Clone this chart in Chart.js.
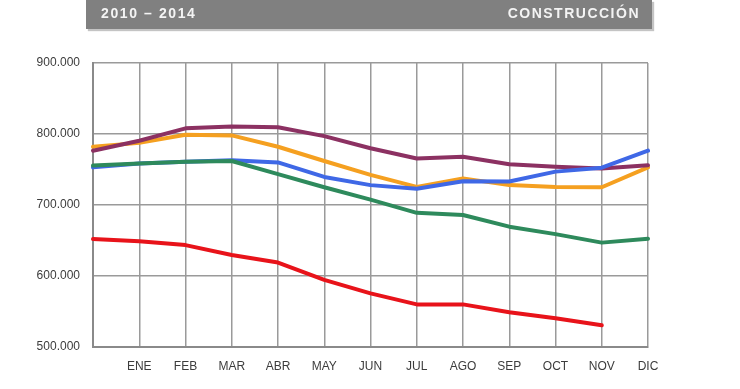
<!DOCTYPE html>
<html lang="es">
<head>
<meta charset="UTF-8">
<title>Construcción 2010 - 2014</title>
<script src="https://cdn.jsdelivr.net/npm/chart.js"></script>
<style>
  html, body { margin: 0; padding: 0; background: #fff; }
  .cabecera {
    position: absolute; left: 86px; top: 0; width: 566px; height: 29px;
    background: #808080; box-shadow: 2px 2px 1px #c4c4c4;
    color: #f4f4f4; font: bold 14px 'Liberation Sans', Arial, sans-serif;
    line-height: 26px;
  }
  .cabecera .izq { position: absolute; left: 15px; letter-spacing: 1.6px; }
  .cabecera .der { position: absolute; right: 12px; letter-spacing: 1.5px; }
  .caja { position: absolute; left: 0; top: 0; width: 740px; height: 389px; }
</style>
</head>
<body>
<div class="caja"><canvas id="grafico"></canvas></div>
<div class="cabecera"><span class="izq">2010 – 2014</span><span class="der">CONSTRUCCIÓN</span></div>
<script>
  // primer punto = diciembre del año anterior
  var meses = ['', 'ENE', 'FEB', 'MAR', 'ABR', 'MAY', 'JUN', 'JUL', 'AGO', 'SEP', 'OCT', 'NOV', 'DIC']
  var y2010 = [776500, 790500, 808000, 810500, 809500, 797000, 780000, 765500, 768000, 757500, 754000, 751500, 756000]
  var y2011 = [753000, 758500, 761000, 763000, 760000, 739500, 728000, 723000, 733500, 733000, 747000, 752500, 776500]
  var y2012 = [782000, 787500, 799000, 798000, 782000, 762000, 742500, 725500, 737500, 728000, 725500, 725000, 753000]
  var y2013 = [755500, 758500, 761000, 762000, 743500, 725000, 707500, 689000, 686000, 669500, 659000, 647000, 652500]
  var y2014 = [652000, 649000, 643500, 629500, 619000, 594500, 575500, 560000, 560000, 549000, 540500, 530500, null]
  var ejeY = [500000, 600000, 700000, 800000, 900000]

  function serie(nombre, datos, color, orden) {
    return {
      label: nombre, data: datos, borderColor: color, backgroundColor: color,
      borderWidth: 4, pointRadius: 0, tension: 0, fill: false,
      borderJoinStyle: 'round', borderCapStyle: 'round', order: orden
    }
  }

  const ctx = document.getElementById('grafico');
  new Chart(ctx, {
    type: 'line',
    data: {
      labels: meses,
      datasets: [
        serie('2010', y2010, '#8c3162', 3),
        serie('2011', y2011, '#3f68e6', 2),
        serie('2012', y2012, '#f5a020', 4),
        serie('2013', y2013, '#2e8a5c', 1),
        serie('2014', y2014, '#e8131a', 0)
      ]
    },
    options: {
      responsive: true,
      maintainAspectRatio: false,
      animation: false,
      layout: { padding: { left: 0, right: 92, top: 63, bottom: 0 } },
      plugins: { legend: { display: false }, tooltip: { enabled: false } },
      scales: {
        x: {
          offset: false,
          grid: { color: '#9a9a9a', lineWidth: 1.5, drawTicks: false },
          border: { color: '#8a8a8a', width: 2 },
          ticks: {
            color: '#3c3c3c', padding: 12, maxRotation: 0, autoSkip: false,
            font: { family: "'Liberation Sans', Arial", size: 12 }
          },
          afterFit: function (s) { s.height = 42 }
        },
        y: {
          min: ejeY[0], max: ejeY[ejeY.length - 1],
          afterBuildTicks: function (s) { s.ticks = ejeY.map(function (v) { return { value: v } }) },
          grid: { color: '#9a9a9a', lineWidth: 1.5, drawTicks: false },
          border: { color: '#8a8a8a', width: 2 },
          ticks: {
            color: '#3c3c3c', padding: 13,
            font: { family: "'Liberation Sans', Arial", size: 12 },
            callback: function (v) { return (v / 1000).toFixed(0) + '.000' }
          },
          afterFit: function (s) { s.width = 93 }
        }
      }
    }
  });
</script>
</body>
</html>
